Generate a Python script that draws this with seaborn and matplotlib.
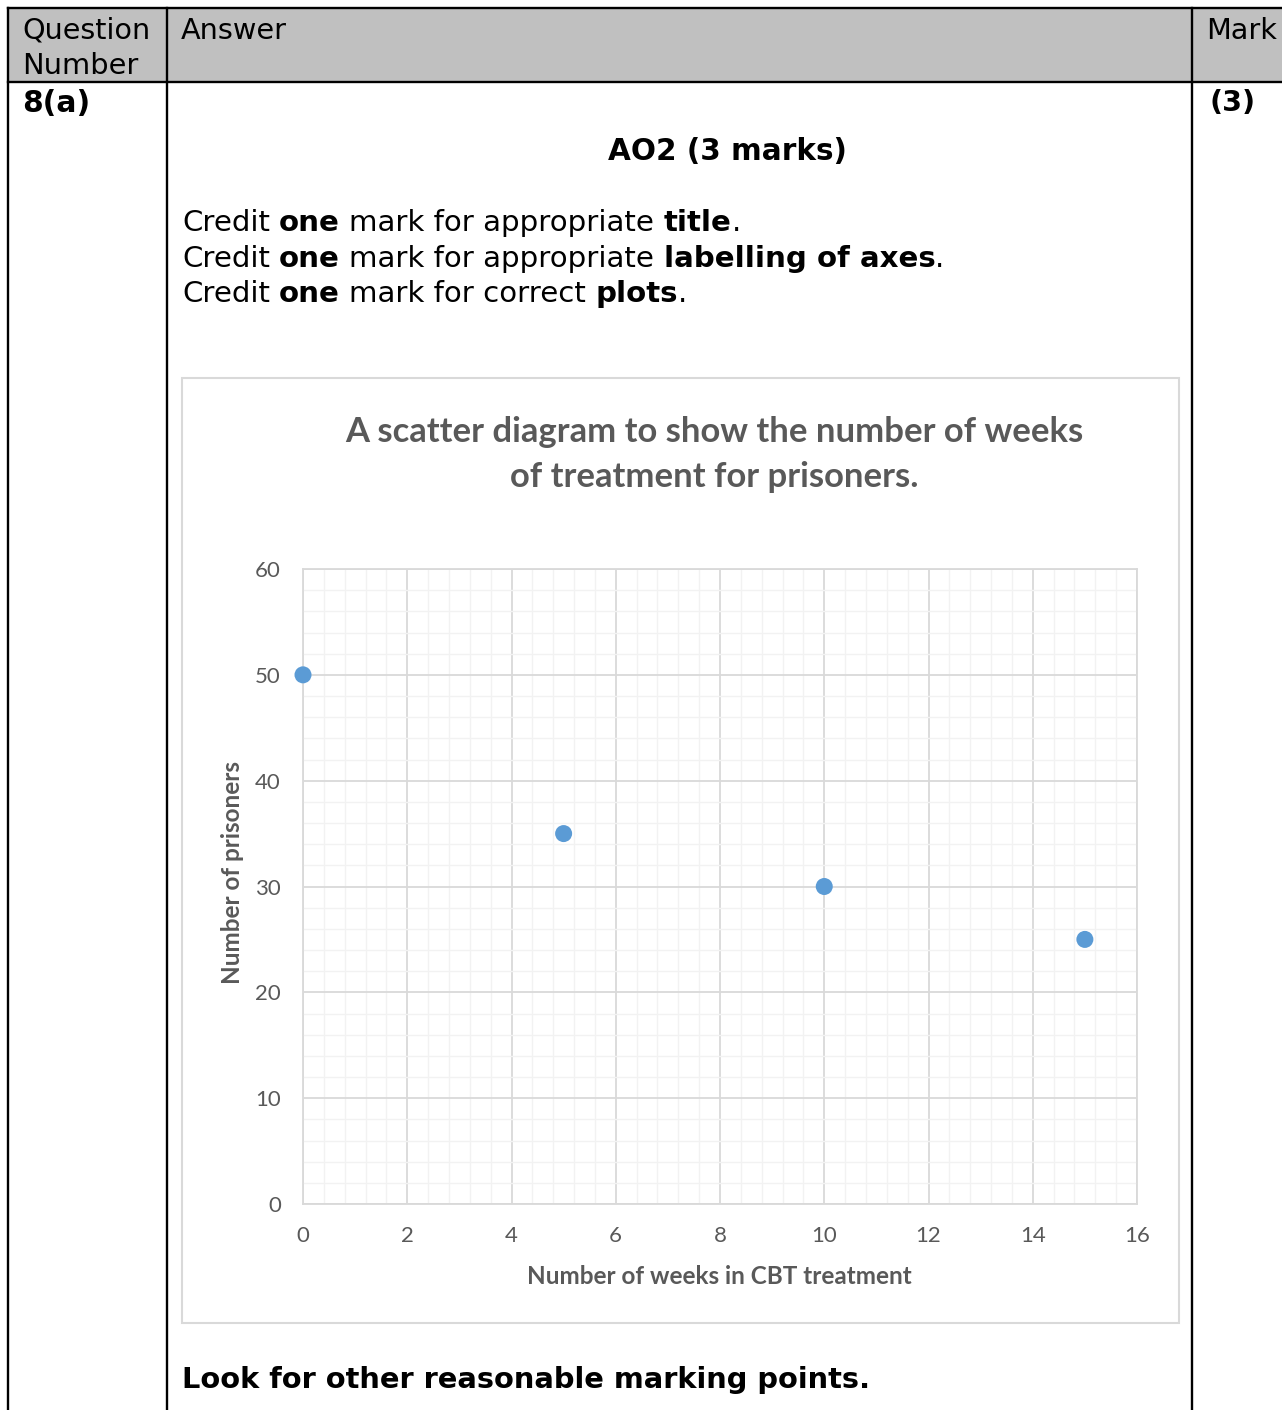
import matplotlib
matplotlib.use('Agg')
import matplotlib.pyplot as plt
import seaborn as sns
import pandas as pd
from matplotlib.patches import Rectangle
from matplotlib.lines import Line2D
from matplotlib.ticker import MultipleLocator

# ---------------- data ----------------
weeks = [0, 5, 10, 15]
prisoners = [50, 35, 30, 25]
x_ticks = [0, 2, 4, 6, 8, 10, 12, 14, 16]
y_ticks = [0, 10, 20, 30, 40, 50, 60]
chart_title = ["A scatter diagram to show the number of weeks",
               "of treatment for prisoners."]
x_label = "Number of weeks in CBT treatment"
y_label = "Number of prisoners"
header_cols = ["Question\nNumber", "Answer", "Mark"]
question = "8(a)"
mark = "(3)"
ao_heading = "AO2 (3 marks)"
credit_lines = ["Credit **one** mark for appropriate **title**.",
                "Credit **one** mark for appropriate **labelling of axes**.",
                "Credit **one** mark for correct **plots**."]
footer = "Look for other reasonable marking points."

sns.set_style('white')
plt.rcParams['font.family'] = ['DejaVu Sans']
plt.rcParams['text.color'] = 'black'

W, H = 1282, 1410
fig = plt.figure(figsize=(W / 100, H / 100), dpi=100)
fig.patch.set_facecolor('white')
r = fig.canvas.get_renderer()


def fx(x):
    return x / W


def fy(y):
    return 1 - y / H


def put(x, y, s, target, ha='left', family='DejaVu Sans', weight='normal',
        color='black', rotation=0, base=20.0):
    t = fig.text(fx(x), fy(y), s, ha=ha, va='center', family=family,
                 weight=weight, color=color, fontsize=base, rotation=rotation)
    bb = t.get_window_extent(r)
    w = bb.height if rotation else bb.width
    t.set_fontsize(base * target / w)
    return t


def space_w(size, weight, family):
    a = fig.text(0, 0, "a a", fontsize=size, weight=weight, family=family)
    b = fig.text(0, 0, "aa", fontsize=size, weight=weight, family=family)
    w = a.get_window_extent(r).width - b.get_window_extent(r).width
    a.remove(); b.remove()
    return w


def rich(x, y, markup, size, family='DejaVu Sans'):
    segs = markup.split('**')
    cur = x
    arts = []
    for i, seg in enumerate(segs):
        if not seg:
            continue
        weight = 'bold' if i % 2 else 'normal'
        lead = len(seg) - len(seg.lstrip(' '))
        trail = len(seg) - len(seg.rstrip(' '))
        core = seg.strip(' ')
        sw = space_w(size, weight, family)
        cur += lead * sw
        if core:
            t = fig.text(fx(cur), fy(y), core, ha='left', va='center',
                         fontsize=size, weight=weight, family=family,
                         color='black')
            arts.append(t)
            cur += t.get_window_extent(r).width
        cur += trail * sw
    return cur - x, arts


# ---------------- table ----------------
fig.add_artist(Rectangle((fx(8), fy(82)), fx(1282) - fx(8), fy(8) - fy(82),
                         transform=fig.transFigure, facecolor='#C0C0C0',
                         edgecolor='none', zorder=0))
lw = 1.7
for (x0, y0, x1, y1) in [(8, 8, 1290, 8), (8, 82, 1290, 82),
                         (8, 8, 8, 1420), (167, 8, 167, 1420),
                         (1192, 8, 1192, 1420)]:
    fig.add_artist(Line2D([fx(x0), fx(x1)], [fy(y0), fy(y1)],
                          transform=fig.transFigure, color='black', lw=lw,
                          zorder=2, solid_capstyle='projecting'))

q1, q2 = header_cols[0].split('\n')
put(22, 31, q1, 128)
put(22, 66, q2, 116)
put(181, 31, header_cols[1], 106)
put(1206, 31, header_cols[2], 71)
put(22, 103, question, 68, weight='bold')
put(1209, 103, mark, 46, weight='bold')
put(727, 152, ao_heading, 239, ha='center', weight='bold')

# credit lines (fit first line width)
w0, arts = rich(182, 223, credit_lines[0], 20.0)
for a in arts:
    a.remove()
csize = 20.0 * 558 / w0
for yy, line in zip([223, 259, 294], credit_lines):
    rich(182, yy, line, csize)

w0, arts = rich(182, 1380, "**" + footer + "**", 20.0)
for a in arts:
    a.remove()
rich(182, 1380, "**" + footer + "**", 20.0 * 689 / w0)

# ---------------- chart ----------------
fig.add_artist(Rectangle((fx(182), fy(1323)), fx(1179) - fx(182),
                         fy(378) - fy(1323), transform=fig.transFigure,
                         facecolor='white', edgecolor='#D9D9D9', lw=1.5,
                         zorder=0))

tcol = '#595959'
t1 = put(714.5, 432, chart_title[0], 737, ha='center', family='Lato',
         weight='bold', color=tcol)
t2 = fig.text(fx(714.5), fy(477), chart_title[1], ha='center', va='center',
              family='Lato', weight='bold', color=tcol,
              fontsize=t1.get_fontsize())

ax = fig.add_axes([fx(303), fy(1204), (1137 - 303) / W, (1204 - 569) / H])
df = pd.DataFrame({'weeks': weeks, 'prisoners': prisoners})
sns.scatterplot(data=df, x='weeks', y='prisoners', ax=ax, s=150,
                color='#5B9BD5', edgecolor='none', zorder=5, clip_on=False)
ax.set_xlim(0, 16)
ax.set_ylim(0, 60)
ax.set_xticks(x_ticks)
ax.set_yticks(y_ticks)
ax.xaxis.set_minor_locator(MultipleLocator(0.4))
ax.yaxis.set_minor_locator(MultipleLocator(2))
ax.grid(which='minor', color='#F2F2F2', lw=1.0)
ax.grid(which='major', color='#D9D9D9', lw=1.3)
ax.set_axisbelow(True)
for sp in ax.spines.values():
    sp.set_color('#D9D9D9')
    sp.set_linewidth(1.3)
ax.tick_params(which='both', length=0)
ax.tick_params(axis='x', pad=16, labelsize=16, labelcolor=tcol)
ax.tick_params(axis='y', pad=16, labelsize=16, labelcolor=tcol)
for lab in ax.get_xticklabels() + ax.get_yticklabels():
    lab.set_family('Lato')
ax.set_xlabel('')
ax.set_ylabel('')

put(719.5, 1276, x_label, 385, ha='center', family='Lato', weight='bold',
    color=tcol)
put(232, 873, y_label, 223, ha='center', family='Lato', weight='bold',
    color=tcol, rotation=90)

fig.savefig('out.png', dpi=100, facecolor='white')
